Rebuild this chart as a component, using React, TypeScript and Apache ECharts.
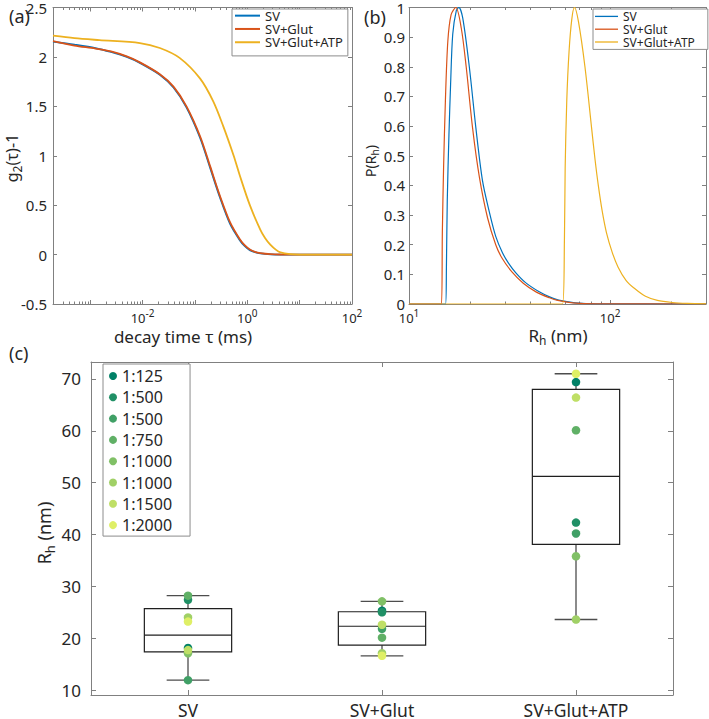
import React, { useEffect, useRef } from 'react';
import * as echarts from 'echarts';

const FONT = '"Noto Sans", "DejaVu Sans", sans-serif';
const TEXT = '#262626';
const AXIS = '#808080';

// ---------- shared ----------
const seriesNames = ['SV', 'SV+Glut', 'SV+Glut+ATP'];
const lineColors = ['#0072BD', '#D95319', '#EDB120'];

// ---------- panel (a): g2(tau)-1 vs decay time ----------
const tauSV = [1.95e-4, 5e-4, 1.26e-3, 2.5e-3, 5e-3, 8.9e-3, 0.0214, 0.039, 0.069, 0.126, 0.195, 0.3, 0.47, 0.72, 0.9, 1.12, 1.4, 1.78, 2.8, 4.3, 10, 30, 100];
const g2SV = [2.155, 2.125, 2.09, 2.05, 2.0, 1.94, 1.82, 1.69, 1.49, 1.18, 0.88, 0.58, 0.31, 0.146, 0.085, 0.045, 0.024, 0.012, 0.003, 0, 0, 0, 0];
const g2Glut = [2.16, 2.115, 2.085, 2.055, 2.005, 1.945, 1.825, 1.7, 1.5, 1.195, 0.895, 0.595, 0.325, 0.155, 0.093, 0.052, 0.028, 0.015, 0.004, 0.001, 0, 0, 0];
const tauATP = [1.95e-4, 5e-4, 1.5e-3, 8.9e-3, 0.0214, 0.051, 0.126, 0.224, 0.347, 0.55, 0.72, 1.12, 1.78, 2.2, 2.75, 3.5, 4.3, 6.6, 10, 30, 100];
const g2ATP = [2.215, 2.19, 2.17, 2.14, 2.09, 1.99, 1.78, 1.55, 1.3, 1.0, 0.8, 0.5, 0.25, 0.165, 0.1, 0.05, 0.022, 0.004, 0, 0, 0];

// ---------- panel (b): P(Rh) vs Rh ----------
const rhSV = [10, 15.2, 15.35, 15.5, 15.8, 16.1, 16.5, 17.2, 17.7, 18.5, 19.95, 21.5, 23.2, 25.1, 27.0, 29.2, 31.3, 34.0, 38, 44.2, 50, 55.5, 67, 87, 300];
const pSV = [0, 0, 0.125, 0.35, 0.57, 0.74, 0.91, 0.99, 1.0, 0.965, 0.8, 0.595, 0.416, 0.31, 0.228, 0.172, 0.137, 0.105, 0.072, 0.042, 0.024, 0.013, 0.004, 0.0005, 0];
const rhGlut = [10, 14.5, 14.65, 14.86, 15.17, 15.6, 16.2, 17.1, 18.2, 19.25, 20.7, 22.4, 24.6, 27.0, 29.0, 32.5, 37, 43, 50, 55, 65, 85, 300];
const pGlut = [0, 0, 0.24, 0.46, 0.685, 0.886, 0.976, 1.0, 0.93, 0.8, 0.595, 0.427, 0.29, 0.2, 0.155, 0.108, 0.07, 0.04, 0.021, 0.012, 0.004, 0.0005, 0];
const rhATP = [10, 58.0, 59.3, 59.8, 60.9, 62.5, 64.5, 66.5, 69.6, 75.0, 80.9, 84.1, 87.4, 91.3, 96.0, 102.4, 109.5, 120, 132.5, 150, 172, 204, 242, 300];
const pATP = [0, 0, 0.22, 0.46, 0.685, 0.85, 0.96, 1.0, 0.953, 0.8, 0.595, 0.49, 0.4, 0.315, 0.24, 0.175, 0.125, 0.08, 0.052, 0.026, 0.012, 0.005, 0.002, 0.0005];

// minor log ticks
const minorMultipliers = [2, 3, 4, 5, 6, 7, 8, 9];
const decadesA = [1e-4, 1e-3, 1e-2, 1e-1, 1, 10];
const decadesB = [10, 100];

// ---------- panel (c): Rh box plots ----------
const groups = ['SV', 'SV+Glut', 'SV+Glut+ATP'];
const dilutionLabels = ['1:125', '1:500', '1:500', '1:750', '1:1000', '1:1000', '1:1500', '1:2000'];
const dilutionColors = ['#008066', '#209066', '#40a066', '#60b066', '#80c066', '#a0d066', '#bfdf66', '#dfef66'];
const ptsSV = [18.1, 27.4, 11.9, 28.2, 17.1, 24.0, 17.7, 23.2];
const ptsGlut = [25.3, 25.0, 21.8, 20.1, 27.1, 17.1, 22.6, 16.6];
const ptsATP = [69.4, 42.3, 40.2, 60.1, 35.8, 23.6, 66.4, 71.0];
// [lower whisker, Q1, median, Q3, upper whisker]
const boxSV = [11.9, 17.35, 20.6, 25.7, 28.2];
const boxGlut = [16.6, 18.65, 22.3, 25.1, 27.1];
const boxATP = [23.6, 38.1, 51.2, 68.0, 71.0];

const zip = (xs: number[], ys: number[]) => xs.map((x, i) => [x, ys[i]]);

const supRich = {
  b: { fontSize: 13, lineHeight: 20, color: TEXT, fontFamily: FONT },
  s: { fontSize: 10, lineHeight: 11, verticalAlign: 'top', color: TEXT, fontFamily: FONT },
};

const logLabel = (evenOnly: boolean) => (v: number) => {
  const l = Math.log10(v);
  const e = Math.round(l);
  if (Math.abs(l - e) > 1e-6) return '';
  if (evenOnly && e % 2 !== 0) return '';
  return `{b|10}{s|${e}}`;
};

const axisLine = { show: true, onZero: false, lineStyle: { color: AXIS, width: 1 } };

function xLog(gridIndex: number, min: number, max: number, top: boolean, evenOnly: boolean) {
  return {
    type: 'log',
    logBase: 10,
    gridIndex,
    min,
    max,
    position: top ? 'top' : 'bottom',
    axisLine,
    axisTick: { show: true, inside: true, length: 4, lineStyle: { color: AXIS } },
    axisLabel: top
      ? { show: false }
      : { show: true, margin: 4, formatter: logLabel(evenOnly), rich: supRich },
    splitLine: { show: false },
  };
}

function yVal(gridIndex: number, min: number, max: number, right: boolean, opts: any) {
  return {
    type: 'value',
    gridIndex,
    min,
    max,
    position: right ? 'right' : 'left',
    axisLine,
    axisTick: { show: true, inside: true, length: opts.tick || 4, lineStyle: { color: AXIS } },
    axisLabel: right
      ? { show: false }
      : {
          show: true,
          margin: opts.margin,
          fontSize: opts.fontSize,
          color: TEXT,
          fontFamily: FONT,
          formatter: opts.formatter,
        },
    splitLine: { show: false },
    ...(opts.interval ? { interval: opts.interval } : {}),
  };
}

function minorTicks(xi: number, yi: number, values: number[], yv: number) {
  return {
    type: 'custom',
    xAxisIndex: xi,
    yAxisIndex: yi,
    silent: true,
    z: 1,
    data: values.map((v) => [v, yv]),
    renderItem: (params: any, api: any) => {
      const p = api.coord([api.value(0), api.value(1)]);
      const cs = params.coordSys;
      const x = Math.round(p[0]) + 0.5;
      const st = { stroke: AXIS, lineWidth: 1 };
      return {
        type: 'group',
        children: [
          { type: 'line', shape: { x1: x, y1: cs.y + cs.height, x2: x, y2: cs.y + cs.height - 2.5 }, style: st },
          { type: 'line', shape: { x1: x, y1: cs.y, x2: x, y2: cs.y + 2.5 }, style: st },
        ],
      };
    },
  };
}

function App() {
  const ref = useRef<HTMLDivElement>(null);
  useEffect(() => {
    if (!ref.current) return;
    const chart = echarts.init(ref.current, undefined, { renderer: 'svg' });

    const minorA = decadesA
      .flatMap((d) => minorMultipliers.map((m) => m * d))
      .filter((v) => v > 2.01e-4 && v < 99);
    const minorB = decadesB
      .flatMap((d) => minorMultipliers.map((m) => m * d))
      .filter((v) => v > 10 && v < 299);

    const aData = [zip(tauSV, g2SV), zip(tauSV, g2Glut), zip(tauATP, g2ATP)];
    const bData = [zip(rhSV, pSV), zip(rhGlut, pGlut), zip(rhATP, pATP)];
    const boxes = [boxSV, boxGlut, boxATP];
    const pts = [ptsSV, ptsGlut, ptsATP];

    const lineSeries = (prefix: string, xi: number, yi: number, data: number[][][], width: number) =>
      data.map((d, i) => ({
        type: 'line',
        name: `${prefix}${i}`,
        xAxisIndex: xi,
        yAxisIndex: yi,
        data: d,
        symbol: 'none',
        showSymbol: false,
        smooth: 0.3,
        lineStyle: { width, color: lineColors[i] },
        itemStyle: { color: lineColors[i] },
        z: 3 + i,
      }));

    const subRich = (size: number) => ({
      n: { fontSize: size, lineHeight: size + 6, fontFamily: FONT, fill: TEXT },
      s: { fontSize: Math.round(size * 0.72), lineHeight: Math.round(size * 0.72), verticalAlign: 'bottom', fontFamily: FONT, fill: TEXT },
    });

    const lineLegend = (names: string[], left: number, w: number, h: number, thick: number, pad: number[], fs: number) => ({
      data: names,
      formatter: (n: string) => seriesNames[Number(n.slice(1))],
      icon: `path://M0,0H${w}V${thick}H0Z`,
      orient: 'vertical',
      left,
      top: 9,
      itemWidth: w,
      itemHeight: h,
      itemGap: 0,
      padding: pad,
      borderColor: '#8c8c8c',
      borderWidth: 1,
      borderRadius: 0,
      backgroundColor: '#ffffff',
      selectedMode: false,
      textStyle: { fontSize: fs, lineHeight: h, color: TEXT, fontFamily: FONT },
    });

    const option: any = {
      animation: false,
      backgroundColor: '#ffffff',
      textStyle: { fontFamily: FONT },
      grid: [
        { left: 53, top: 7, width: 299, height: 297 },
        { left: 409, top: 6, width: 299, height: 298 },
        { left: 91, top: 362, width: 582, height: 334 },
      ],
      xAxis: [
        xLog(0, 1.95e-4, 100, false, true),
        xLog(0, 1.95e-4, 100, true, true),
        xLog(1, 10, 300, false, false),
        xLog(1, 10, 300, true, false),
        {
          type: 'category',
          gridIndex: 2,
          data: groups,
          position: 'bottom',
          boundaryGap: true,
          axisLine,
          axisTick: { show: true, inside: true, alignWithLabel: true, length: 5, lineStyle: { color: AXIS } },
          axisLabel: { fontSize: 17.5, margin: 6, color: TEXT, fontFamily: FONT },
        },
        {
          type: 'category',
          gridIndex: 2,
          data: groups,
          position: 'top',
          boundaryGap: true,
          axisLine,
          axisTick: { show: true, inside: true, alignWithLabel: true, length: 5, lineStyle: { color: AXIS } },
          axisLabel: { show: false },
        },
      ],
      yAxis: [
        yVal(0, -0.5, 2.5, false, { interval: 0.5, margin: 6, fontSize: 15 }),
        yVal(0, -0.5, 2.5, true, { interval: 0.5 }),
        yVal(1, 0, 1, false, { interval: 0.1, margin: 4, fontSize: 15 }),
        yVal(1, 0, 1, true, { interval: 0.1 }),
        yVal(2, 9.04, 73.27, false, {
          margin: 10,
          fontSize: 17,
          tick: 5,
          formatter: (v: number) => (Math.abs(v % 10) < 1e-6 ? String(v) : ''),
        }),
        yVal(2, 9.04, 73.27, true, { tick: 5 }),
      ],
      legend: [
        lineLegend(['a0', 'a1', 'a2'], 232, 25, 13.3, 2, [0, 5, 7, 3], 13),
        lineLegend(['b0', 'b1', 'b2'], 593, 23, 12.8, 1.3, [1, 13, 1, 2], 12),
        {
          data: dilutionLabels.map((_, i) => ({ name: `d${i}`, icon: 'circle' })),
          formatter: (n: string) => dilutionLabels[Number(n.slice(1))],
          orient: 'vertical',
          left: 103,
          top: 364,
          itemWidth: 8,
          itemHeight: 8,
          itemGap: 5.3,
          padding: [4, 18, 3, 6],
          borderColor: '#8c8c8c',
          borderWidth: 1,
          borderRadius: 0,
          backgroundColor: '#ffffff',
          selectedMode: false,
          textStyle: { fontSize: 16, lineHeight: 14, color: TEXT, fontFamily: FONT },
        },
      ],
      series: [
        minorTicks(0, 0, minorA, 0),
        minorTicks(2, 2, minorB, 0.5),
        ...lineSeries('a', 0, 0, aData, 1.8),
        ...lineSeries('b', 2, 2, bData, 1.2),
        {
          type: 'custom',
          xAxisIndex: 4,
          yAxisIndex: 4,
          silent: true,
          z: 2,
          data: boxes.map((b, i) => [i, ...b]),
          renderItem: (params: any, api: any) => {
            const c = api.value(0);
            const lo = api.coord([c, api.value(1)]);
            const q1 = api.coord([c, api.value(2)]);
            const md = api.coord([c, api.value(3)]);
            const q3 = api.coord([c, api.value(4)]);
            const hi = api.coord([c, api.value(5)]);
            const band = api.size([1, 0])[0];
            const bw = band * 0.45;
            const cw = band * 0.22;
            const x = lo[0];
            const whisk = { stroke: '#4d4d4d', lineWidth: 1.3 };
            const boxSt = { stroke: '#1f1f1f', lineWidth: 1.2, fill: 'none' };
            return {
              type: 'group',
              children: [
                { type: 'line', shape: { x1: x, y1: lo[1], x2: x, y2: q1[1] }, style: whisk },
                { type: 'line', shape: { x1: x, y1: q3[1], x2: x, y2: hi[1] }, style: whisk },
                { type: 'line', shape: { x1: x - cw / 2, y1: lo[1], x2: x + cw / 2, y2: lo[1] }, style: whisk },
                { type: 'line', shape: { x1: x - cw / 2, y1: hi[1], x2: x + cw / 2, y2: hi[1] }, style: whisk },
                { type: 'rect', shape: { x: x - bw / 2, y: q3[1], width: bw, height: q1[1] - q3[1] }, style: boxSt },
                { type: 'line', shape: { x1: x - bw / 2, y1: md[1], x2: x + bw / 2, y2: md[1] }, style: boxSt },
              ],
            };
          },
        },
        ...dilutionLabels.map((_, i) => ({
          type: 'scatter',
          name: `d${i}`,
          xAxisIndex: 4,
          yAxisIndex: 4,
          symbol: 'circle',
          symbolSize: 8.5,
          z: 5 + i,
          itemStyle: { color: dilutionColors[i], opacity: 1 },
          data: groups.map((g, k) => [g, pts[k][i]]),
        })),
      ],
      graphic: [
        { type: 'text', x: 9, y: 16, style: { text: '(a)', fontSize: 18, fontFamily: FONT, fill: TEXT, verticalAlign: 'middle' } },
        { type: 'text', x: 364, y: 17, style: { text: '(b)', fontSize: 18, fontFamily: FONT, fill: TEXT, verticalAlign: 'middle' } },
        { type: 'text', x: 9, y: 353, style: { text: '(c)', fontSize: 18, fontFamily: FONT, fill: TEXT, verticalAlign: 'middle' } },
        {
          type: 'text',
          x: 12,
          y: 158,
          rotation: Math.PI / 2,
          style: { text: '{n|g}{s|2}{n|(τ)-1}', rich: subRich(16), align: 'center', verticalAlign: 'middle' },
        },
        {
          type: 'text',
          x: 183,
          y: 336,
          style: { text: 'decay time τ (ms)', fontSize: 17, fontFamily: FONT, fill: TEXT, align: 'center', verticalAlign: 'middle' },
        },
        {
          type: 'text',
          x: 370,
          y: 161,
          rotation: Math.PI / 2,
          style: { text: '{n|P(R}{s|h}{n|)}', rich: subRich(14), align: 'center', verticalAlign: 'middle' },
        },
        {
          type: 'text',
          x: 558,
          y: 335,
          style: { text: '{n|R}{s|h}{n| (nm)}', rich: subRich(17), align: 'center', verticalAlign: 'middle' },
        },
        {
          type: 'text',
          x: 44,
          y: 533,
          rotation: Math.PI / 2,
          style: { text: '{n|R}{s|h}{n| (nm)}', rich: subRich(18), align: 'center', verticalAlign: 'middle' },
        },
      ],
    };

    chart.setOption(option);
    return () => chart.dispose();
  }, []);

  return (
    <div
      ref={ref}
      style={{ position: 'absolute', left: 0, top: 0, width: 709, height: 719, background: '#fff' }}
    />
  );
}

export default App;
